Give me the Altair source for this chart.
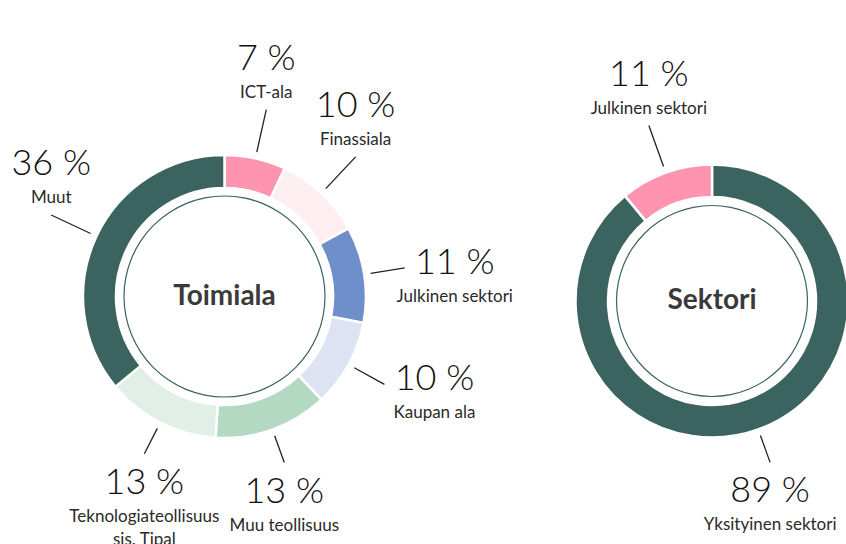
import math
import altair as alt
import pandas as pd

# ---- data ----
toimiala_cats = ["ICT-ala", "Finassiala", "Julkinen sektori", "Kaupan ala",
                 "Muu teollisuus", "Teknologiateollisuus\nsis. Tipal", "Muut"]
toimiala_vals = [7, 10, 11, 10, 13, 13, 36]

sektori_cats = ["Yksityinen sektori", "Julkinen sektori"]
sektori_vals = [89, 11]

titles = ["Toimiala", "Sektori"]

# ---- styles ----
TEAL = "#3b6360"
toimiala_colors = ["#ff94b0", "#fdeef2", "#6f8fcb", "#dde3f3", "#b3d9c3", "#e1efe6", TEAL]
sektori_colors = [TEAL, "#ff94b0"]
LABEL_FONT = "Lato"
TEXT_COLOR = "#111111"


def donut(cats, vals, colors, title, cx, cy, ro, ri, rc):
    df = pd.DataFrame({"cat": cats, "value": vals, "idx": list(range(len(cats)))})
    base = alt.Chart(df)

    arcs = base.mark_arc(innerRadius=ri, outerRadius=ro, stroke="white",
                         strokeWidth=2.5, x=cx, y=cy).encode(
        theta=alt.Theta("value:Q", stack=True),
        color=alt.Color("cat:N", scale=alt.Scale(domain=cats, range=colors), legend=None),
        order=alt.Order("idx:Q"),
    )

    ring = alt.Chart(pd.DataFrame({"v": [1]})).mark_arc(
        innerRadius=rc - 0.6, outerRadius=rc + 0.6, theta=0, theta2=2 * math.pi,
        color=TEAL, x=cx, y=cy,
    ).encode(opacity=alt.value(1))

    lab = base.transform_joinaggregate(total="sum(value)").transform_window(
        cum="sum(value)", sort=[alt.SortField("idx")], frame=[None, 0]
    ).transform_calculate(
        mid="(datum.cum - datum.value/2)/datum.total*2*PI",
        s="sin(datum.mid)",
        c="cos(datum.mid)",
        mode="datum.c > 0.35 ? 'up' : (datum.c < -0.6 ? 'down' : 'side')",
        r2=f"datum.mode=='up' ? {ro + 50} : (datum.mode=='side' ? {ro + 41} : {ro + 35})",
        x1=f"{cx} + {ro + 6.5}*datum.s",
        y1=f"{cy} - {ro + 6.5}*datum.c",
        x2=f"{cx} + datum.r2*datum.s",
        y2=f"{cy} - datum.r2*datum.c",
        lx="datum.mode=='side' ? datum.x2 + (datum.s > 0 ? 50 : -50) : datum.x2",
        py="datum.mode=='up' ? datum.y2 - 40 : (datum.mode=='down' ? datum.y2 + 40 : datum.y2 + 6)",
        ny="datum.py + 28",
        pct="datum.value + ' %'",
    )

    leaders = lab.mark_rule(color="#222222", strokeWidth=1.3).encode(
        x=alt.X("x1:Q", scale=None, axis=None),
        y=alt.Y("y1:Q", scale=None, axis=None),
        x2="x2:Q", y2="y2:Q",
    )
    pct = lab.mark_text(font=LABEL_FONT, fontWeight=300, fontSize=36, align="center",
                        baseline="alphabetic", color=TEXT_COLOR).encode(
        x=alt.X("lx:Q", scale=None, axis=None),
        y=alt.Y("py:Q", scale=None, axis=None),
        text="pct:N",
    )
    names = lab.mark_text(font=LABEL_FONT, fontWeight=400, fontSize=17, align="center",
                          baseline="alphabetic", color="#2a2a2a", lineBreak="\n",
                          lineHeight=23).encode(
        x=alt.X("lx:Q", scale=None, axis=None),
        y=alt.Y("ny:Q", scale=None, axis=None),
        text="cat:N",
    )
    center = alt.Chart(pd.DataFrame({"t": [title]})).mark_text(
        font=LABEL_FONT, fontWeight="bold", fontSize=28, color="#3a3a3a",
        align="center", baseline="middle", x=cx, y=cy,
    ).encode(text="t:N")

    return [arcs, ring, leaders, pct, names, center]


left = donut(toimiala_cats, toimiala_vals, toimiala_colors, titles[0],
             224.5, 296.5, 141.5, 108.5, 100.5)
right = donut(sektori_cats, sektori_vals, sektori_colors, titles[1],
              712, 301, 136.5, 104, 95.5)

chart = alt.layer(*left, *right).resolve_scale(
    color="independent", theta="independent"
).properties(
    width=846, height=544, padding=0, autosize="none", background="white"
).configure_view(strokeWidth=0)

chart.save("out.html", embed_options={"renderer": "svg", "actions": False})
